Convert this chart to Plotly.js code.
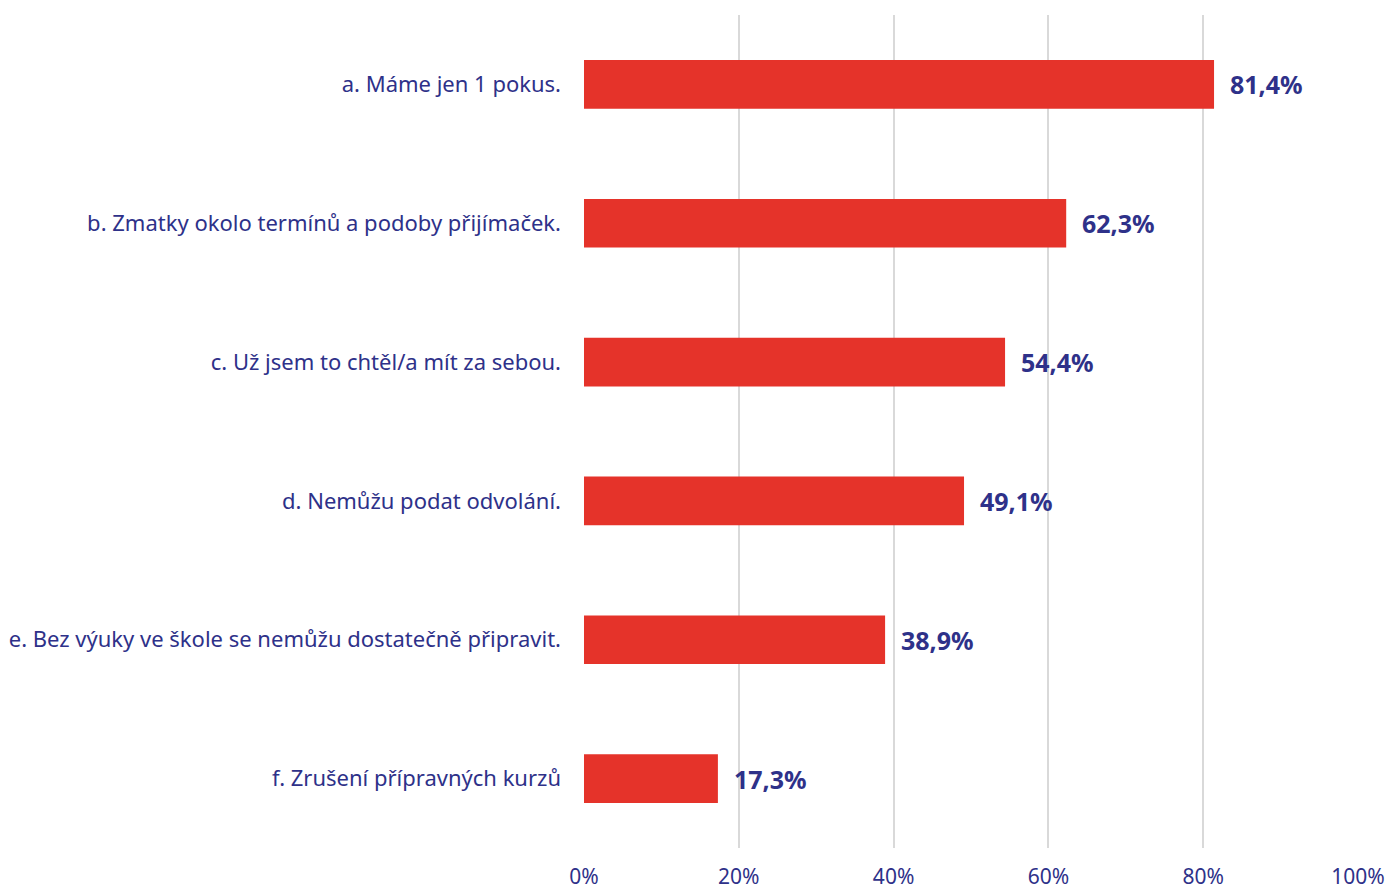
<!DOCTYPE html>
<html>
<head>
<meta charset="utf-8">
<script src="https://cdn.plot.ly/plotly-3.0.1.min.js"></script>
<style>html,body{margin:0;padding:0;background:#fff;}#chart{width:1391px;height:891px;}</style>
</head>
<body>
<div id="chart"></div>
<script>
const categories = [
  "a. Máme jen 1 pokus.",
  "b. Zmatky okolo termínů a podoby přijímaček.",
  "c. Už jsem to chtěl/a mít za sebou.",
  "d. Nemůžu podat odvolání.",
  "e. Bez výuky ve škole se nemůžu dostatečně připravit.",
  "f. Zrušení přípravných kurzů"
];
const values = [81.4, 62.3, 54.4, 49.1, 38.9, 17.3];
const tickValues = [0, 20, 40, 60, 80, 100];
const tickLabels = ["0%", "20%", "40%", "60%", "80%", "100%"];

const textColor = "#2e3189";
const fmt = v => v.toFixed(1).replace(".", ",") + "%";

const trace = {
  type: "bar",
  orientation: "h",
  y: categories,
  x: values,
  marker: {color: "#e5332a"},
  width: 0.35,
  hoverinfo: "skip"
};

const annotations = categories.map((c, i) => ({
  x: values[i], y: c, xref: "x", yref: "y",
  text: fmt(values[i]), showarrow: false,
  xanchor: "left", xshift: 14,
  font: {family: "Noto Sans, sans-serif", size: 25, color: textColor, weight: "bold"}
}));

const layout = {
  width: 1391, height: 891,
  margin: {l: 584, r: 33, t: 15, b: 43},
  paper_bgcolor: "#fff", plot_bgcolor: "#fff",
  showlegend: false,
  font: {family: "Noto Sans, sans-serif", size: 22, color: textColor},
  xaxis: {
    range: [0, 100], tickmode: "array", tickvals: tickValues, ticktext: tickLabels,
    showgrid: true, gridcolor: "#d9d9d9", gridwidth: 2,
    zeroline: false, showline: false, ticks: "",
    ticklabelstandoff: 14, fixedrange: true,
    tickfont: {size: 21}
  },
  yaxis: {
    categoryorder: "array", categoryarray: categories,
    autorange: "reversed", showgrid: false, zeroline: false,
    showline: false, ticks: "", ticklabelstandoff: 22
  },
  annotations: annotations
};

Plotly.newPlot("chart", [trace], layout, {displayModeBar: false, staticPlot: true});
</script>
</body>
</html>
